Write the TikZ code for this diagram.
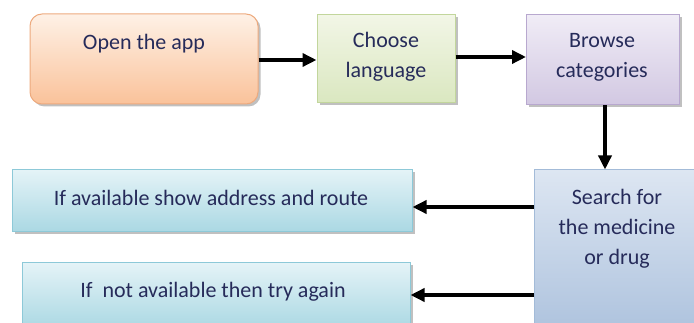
\documentclass[tikz,border=0pt]{standalone}
\usepackage{fontspec}
\setmainfont{Carlito}
\usetikzlibrary{arrows.meta,shadows}
\definecolor{ink}{HTML}{262B5A}
\definecolor{peachTop}{HTML}{FEF1E6}
\definecolor{peachBot}{HTML}{FAC29A}
\definecolor{peachLine}{HTML}{EDAA7E}
\definecolor{greenTop}{HTML}{F2F6E6}
\definecolor{greenBot}{HTML}{DAE7C0}
\definecolor{greenLine}{HTML}{C2D69C}
\definecolor{lilacTop}{HTML}{F0ECF6}
\definecolor{lilacBot}{HTML}{D2C8E2}
\definecolor{lilacLine}{HTML}{B8A8CF}
\definecolor{blueTop}{HTML}{DDE6F2}
\definecolor{blueBot}{HTML}{AEC3DE}
\definecolor{blueLine}{HTML}{A3BBD8}
\definecolor{tealTop}{HTML}{E4F3F7}
\definecolor{tealBot}{HTML}{AAD8E3}
\definecolor{tealLine}{HTML}{8DC9D8}
\tikzset{
  box/.style={draw, line width=1pt, inner sep=0pt,
    drop shadow={shadow xshift=2.5pt, shadow yshift=-2.5pt, fill=black!45, opacity=0.55}},
  openbox/.style={box, rounded corners=12pt, draw=peachLine, top color=peachTop, bottom color=peachBot},
  langbox/.style={box, draw=greenLine, top color=greenTop, bottom color=greenBot},
  catbox/.style={box, draw=lilacLine, top color=lilacTop, bottom color=lilacBot},
  searchbox/.style={box, draw=blueLine, top color=blueTop, bottom color=blueBot},
  resultbox/.style={box, draw=tealLine, top color=tealTop, bottom color=tealBot},
  txt/.style={text=ink, font=\fontsize{22}{30}\selectfont, align=center, inner sep=0pt},
  flow/.style={line width=3.4pt, -{Triangle[length=14pt,width=13pt]}}
}
\begin{document}
\begin{tikzpicture}[x=1pt,y=-1pt]
  \useasboundingbox (0,0) rectangle (694,323);
  % boxes
  \node[openbox, minimum width=228pt, minimum height=90pt] (open) at (144,59) {};
  \node[langbox, minimum width=138pt, minimum height=88pt] (lang) at (386,59) {};
  \node[catbox, minimum width=153pt, minimum height=90pt] (cat) at (603,60) {};
  \node[searchbox, minimum width=165pt, minimum height=160pt] (search) at (617,250) {};
  \node[resultbox, minimum width=400pt, minimum height=62pt] (found) at (212,201) {};
  \node[resultbox, minimum width=388pt, minimum height=66pt] (notfound) at (216,296) {};
  % labels
  \node[txt] (tOpen) at (144,44) {Open the app};
  \node[txt] (tLang) at (386,57) {Choose\\language};
  \node[txt] (tCat) at (602,57) {Browse\\categories};
  \node[txt] (tSearch) at (617,229) {Search for\\the medicine\\or drug};
  \node[txt] (tFound) at (211,198) {If available show address and route};
  \node[txt] (tNot) at (213,292) {If~ not available then try again};
  % connectors
  \draw[flow] (open.east |- 0,60) -- (lang.west |- 0,60);
  \draw[flow] (lang.east |- 0,57) -- (cat.west |- 0,57);
  \draw[flow] (cat.south -| 605,0) -- (search.north -| 605,0);
  \draw[flow] (search.west |- 0,207) -- (found.east |- 0,207);
  \draw[flow] (search.west |- 0,295) -- (notfound.east |- 0,295);
\end{tikzpicture}
\end{document}
